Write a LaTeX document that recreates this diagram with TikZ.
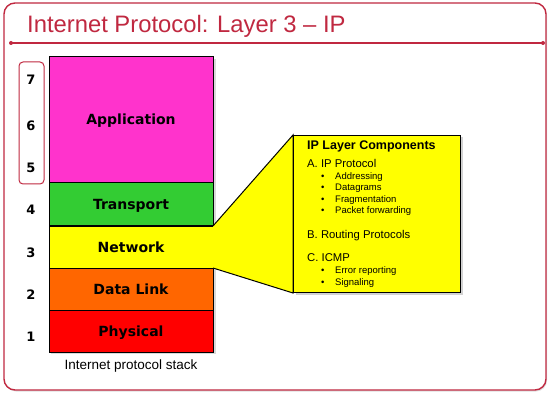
\documentclass[tikz,border=0pt]{standalone}
\usepackage{fontspec}
\setmainfont{Liberation Sans}
\newfontfamily\verdana{DejaVu Sans}
\usetikzlibrary{shadows}
\definecolor{crimson}{RGB}{192,40,64}
\definecolor{appcol}{RGB}{255,51,204}
\definecolor{tracol}{RGB}{51,204,51}
\definecolor{netcol}{RGB}{255,255,0}
\definecolor{dlcol}{RGB}{255,102,0}
\definecolor{phycol}{RGB}{255,0,0}
\tikzset{
  layer/.style={draw=black, line width=1pt, minimum width=164pt, inner sep=0pt, outer sep=0pt,
    text height=10pt, text depth=0pt,
    font=\verdana\bfseries\fontsize{14}{16}\selectfont},
  num/.style={text height=9.5pt, text depth=0pt, font=\verdana\bfseries\fontsize{13}{15}\selectfont},
  head/.style={anchor=base west, inner sep=0pt, font=\bfseries\fontsize{12.5}{14}\selectfont},
  item/.style={anchor=base west, inner sep=0pt, font=\fontsize{11.3}{13}\selectfont},
  sub/.style={anchor=base west, inner sep=0pt, font=\fontsize{9.5}{11}\selectfont},
  dot/.style={anchor=base west, inner sep=0pt, font=\fontsize{9.5}{11}\selectfont}
}
\begin{document}
\begin{tikzpicture}[x=1pt,y=-1pt]
\useasboundingbox (0,0) rectangle (548,395);
% slide frame
\draw[crimson, line width=1.4pt, rounded corners=11pt, drop shadow={opacity=0.25, shadow xshift=1pt, shadow yshift=-1.5pt}, fill=white]
  (4,3) rectangle (546,390);
% title
\node[anchor=base west, text=crimson, font=\fontsize{23.8}{26}\selectfont, inner sep=0pt] (title) at (27,33) {Internet Protocol: Layer 3 -- IP};
\coordinate (rl) at (11,43);
\coordinate (rr) at (543,43);
\draw[crimson, line width=1.3pt] (rl) -- (rr);
\fill[crimson] (rl) circle (2pt) (rr) circle (2pt);
% protocol stack
\fill[black!15] (51,59) rectangle (216,354);
\node[layer, fill=appcol, minimum height=126pt, anchor=north west] (app) at (49,57) {Application};
\node[layer, fill=tracol, minimum height=43pt, anchor=north] (tra) at (app.south) {Transport};
\node[layer, fill=netcol, minimum height=42pt, anchor=north] (net) at (tra.south) {Network};
\node[layer, fill=dlcol, minimum height=42pt, anchor=north] (dl) at (net.south) {Data Link};
\node[layer, fill=phycol, minimum height=42pt, anchor=north] (phy) at (dl.south) {Physical};
\node[font=\fontsize{13.5}{15}\selectfont] (cap) at (131,366) {Internet protocol stack};
% layer numbers
\node[draw=crimson, line width=1pt, rounded corners=4pt, minimum width=25pt, minimum height=122pt] (grp) at (31.5,123) {};
\node[num] (n7) at (31,80) {7};
\node[num] (n6) at (31,126) {6};
\node[num] (n5) at (31,168) {5};
\node[num] (n4) at (31,210) {4};
\node[num] (n3) at (31,253) {3};
\node[num] (n2) at (31,295) {2};
\node[num] (n1) at (31,337) {1};
% callout for the network layer
\node[draw=black, line width=1pt, fill=netcol, minimum width=167pt, minimum height=157pt, anchor=north west,
  drop shadow={opacity=0.35, shadow xshift=2pt, shadow yshift=-2pt}] (box) at (293,135) {};
\filldraw[fill=netcol, draw=black, line width=1pt] (net.north east) -- (box.north west) -- (box.south west) -- (net.south east);
\node[draw=black, line width=1pt, fill=netcol, minimum width=167pt, minimum height=157pt, anchor=north west] at (293,135) {};
\node[head] (h) at (307,150) {IP Layer Components};
\node[item] (a) at (307,168) {A. IP Protocol};
\foreach \t/\y in {Addressing/180, Datagrams/191, Fragmentation/203, Packet forwarding/214}{
  \node[dot] at (321,\y) {\textbullet};
  \node[sub] at (335,\y) {\t};
}
\node[item] (b) at (307,238) {B. Routing Protocols};
\node[item] (c) at (307,261) {C. ICMP};
\foreach \t/\y in {Error reporting/273, Signaling/285}{
  \node[dot] at (321,\y) {\textbullet};
  \node[sub] at (335,\y) {\t};
}
\end{tikzpicture}
\end{document}
